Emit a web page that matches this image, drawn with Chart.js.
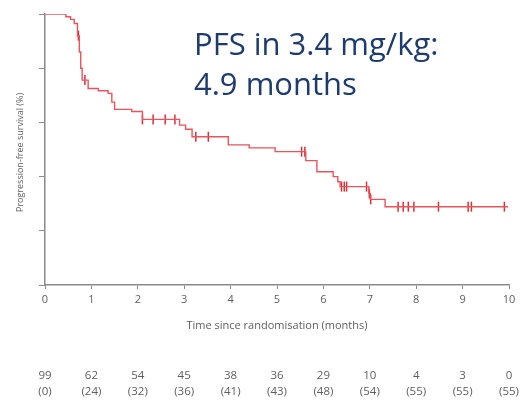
<!DOCTYPE html>
<html>
<head>
<meta charset="utf-8">
<script src="https://cdn.jsdelivr.net/npm/chart.js@4"></script>
<style>
  html, body { margin: 0; padding: 0; background: #fff; }
  #wrap { width: 527px; height: 402px; }
</style>
</head>
<body>
<div id="wrap"><canvas id="km"></canvas></div>
<script>
// Kaplan-Meier step curve: time (months) where the curve drops, and level (%) from there on
const stepTimes = [0, 0.45, 0.55, 0.63, 0.70, 0.74, 0.77, 0.80, 0.93, 1.15, 1.36, 1.44, 1.50, 1.87, 2.10,
    2.90, 3.03, 3.17, 3.95, 4.40, 4.96, 5.62, 5.86, 6.21, 6.31, 6.36, 6.98, 7.01, 7.33, 9.98];
const stepLevels = [100, 99, 98, 96.5, 92, 86, 80, 75.6, 72.5, 71.7, 70.7, 67.5, 64.8, 64, 61.1,
    59, 57.5, 54.7, 51.7, 50.6, 49.2, 45.9, 41.8, 40, 38.1, 36.3, 33.8, 31.6, 28.9, 28.9];

// censor marks
const censorTimes = [0.72, 0.86, 2.10, 2.33, 2.59, 2.80, 3.25, 3.52, 5.53, 5.60, 6.39, 6.45, 6.50, 6.93,
    6.99, 7.02, 7.61, 7.72, 7.83, 7.95, 8.48, 9.12, 9.19, 9.90];
const censorLevels = [92, 75.6, 61.1, 61.1, 61.1, 61.1, 54.7, 54.7, 49.2, 49.2, 36.3, 36.3, 36.3, 36.3,
    33.8, 31.6, 28.9, 28.9, 28.9, 28.9, 28.9, 28.9, 28.9, 28.9];

// numbers at risk table (under each month tick)
const riskMonths = [0, 1, 2, 3, 4, 5, 6, 7, 8, 9, 10];
const atRisk = [99, 62, 54, 45, 38, 36, 29, 10, 4, 3, 0];
const censoredSoFar = [0, 24, 32, 36, 41, 43, 48, 54, 55, 55, 55];

const xTitle = 'Time since randomisation (months)';
const yTitle = 'Progression-free survival (%)';
const noteLines = ['PFS in 3.4 mg/kg:', '4.9 months'];

const grey = '#5e5e5e';
const axisGrey = '#8a8a8a';

const extras = {
    id: 'extras',
    afterDraw(chart) {
        const ctx = chart.ctx;
        const xs = chart.scales.x;
        const area = chart.chartArea;
        ctx.save();

        // axis titles
        ctx.fillStyle = grey;
        ctx.textAlign = 'center';
        ctx.textBaseline = 'middle';
        ctx.font = '11px "Open Sans"';
        ctx.fillText(xTitle, (area.left + area.right) / 2, 326);

        ctx.save();
        ctx.translate(20, (area.top + area.bottom) / 2 + 3);
        ctx.rotate(-Math.PI / 2);
        ctx.font = '9px "Open Sans"';
        ctx.fillText(yTitle, 0, 0);
        ctx.restore();

        // numbers at risk
        ctx.font = '11.5px "Open Sans"';
        riskMonths.forEach((m, i) => {
            const px = xs.getPixelForValue(m);
            ctx.fillText(String(atRisk[i]), px, 376);
            ctx.fillText('(' + censoredSoFar[i] + ')', px, 392);
        });

        // annotation
        ctx.fillStyle = '#1d3b6c';
        ctx.textAlign = 'left';
        ctx.textBaseline = 'alphabetic';
        ctx.font = '31px "Open Sans"';
        ctx.fillText(noteLines[0], 194, 55);
        ctx.fillText(noteLines[1], 194, 95);

        ctx.restore();
    }
};

new Chart(document.getElementById('km'), {
    type: 'line',
    data: {
        datasets: [{
            label: 'PFS',
            data: stepTimes.map((t, i) => ({ x: t, y: stepLevels[i] })),
            stepped: true,
            borderColor: '#e6545c',
            borderWidth: 1.4,
            pointRadius: 0,
            fill: false
        }, {
            label: 'Censored',
            data: censorTimes.map((t, i) => ({ x: t, y: censorLevels[i] })),
            showLine: false,
            pointStyle: 'line',
            rotation: 90,
            pointRadius: 5,
            pointBorderColor: '#d8303b',
            pointBorderWidth: 1.5
        }]
    },
    options: {
        responsive: true,
        maintainAspectRatio: false,
        animation: false,
        layout: { padding: { left: 0, right: 18, top: 14, bottom: 0 } },
        plugins: { legend: { display: false }, tooltip: { enabled: false } },
        scales: {
            x: {
                type: 'linear',
                min: 0,
                max: 10,
                afterFit: (s) => { s.height = 117; },
                ticks: { stepSize: 1, color: grey, font: { family: 'Open Sans', size: 11 }, padding: 4, maxRotation: 0 },
                grid: { drawOnChartArea: false, color: axisGrey, tickLength: 4 },
                border: { color: axisGrey, width: 1.5 }
            },
            y: {
                min: 0,
                max: 100,
                afterFit: (s) => { s.width = 45; },
                ticks: { stepSize: 20, display: false },
                grid: { drawOnChartArea: false, color: axisGrey, tickLength: 6 },
                border: { color: axisGrey, width: 1.5 }
            }
        }
    },
    plugins: [extras]
});
</script>
</body>
</html>
